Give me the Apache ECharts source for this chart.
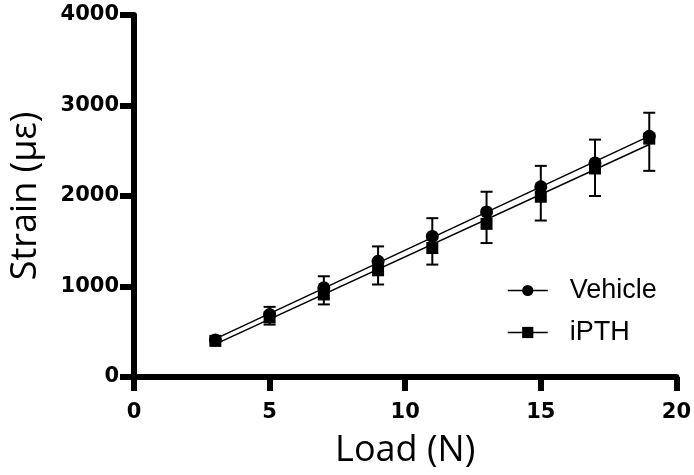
<!DOCTYPE html>
<html><head><meta charset="utf-8">
<script src="https://cdn.jsdelivr.net/npm/echarts@6/dist/echarts.min.js"></script>
<style>html,body{margin:0;padding:0;background:#fff}#c{width:694px;height:475px}</style>
</head><body><div id="c"></div>
<script>
const loads = [3, 5, 7, 9, 11, 13, 15, 17, 19];
const vehicleMean = [410, 690, 985, 1278, 1553, 1824, 2102, 2366, 2659];
const vehicleSD   = [0, 85, 128, 165, 202, 223, 231, 257, 261];
const iPTHMean    = [399, 659, 912, 1179, 1425, 1692, 1992, 2304, 2634];
const iPTHSD      = [0, 80, 110, 157, 183, 212, 263, 304, 356];
const xTicks = [0, 5, 10, 15, 20];
const yTicks = [0, 1000, 2000, 3000, 4000];

function fit(xs, ys) {
  const n = xs.length;
  const mx = xs.reduce((a,b)=>a+b,0)/n, my = ys.reduce((a,b)=>a+b,0)/n;
  let sxy=0, sxx=0;
  for (let i=0;i<n;i++){ sxy+=(xs[i]-mx)*(ys[i]-my); sxx+=(xs[i]-mx)**2; }
  const b = sxy/sxx, a = my - b*mx;
  const x0 = xs[0], x1 = xs[n-1];
  return [[x0, a+b*x0], [x1, a+b*x1]];
}

const vehErr = loads.map((x,i)=>[x, vehicleMean[i], vehicleMean[i]+vehicleSD[i]]);
const ipthErr = loads.map((x,i)=>[x, iPTHMean[i]-iPTHSD[i], iPTHMean[i]]);

function errRender(params, api) {
  const x = api.value(0);
  const lo = api.coord([x, api.value(1)]);
  const hi = api.coord([x, api.value(2)]);
  if (Math.abs(hi[1]-lo[1]) < 1) return null;
  const isTopCap = params.seriesName === 'vehErr';
  const capY = isTopCap ? hi[1] : lo[1];
  const w = 6;
  const st = {stroke:'#000', lineWidth:2};
  return {type:'group', children:[
    {type:'line', shape:{x1:lo[0], y1:lo[1], x2:hi[0], y2:hi[1]}, style:st},
    {type:'line', shape:{x1:lo[0]-w, y1:capY, x2:lo[0]+w, y2:capY}, style:st}
  ]};
}

const chart = echarts.init(document.getElementById('c'), null, {renderer:'canvas'});
const axisFont = {fontFamily:'"DejaVu Sans",sans-serif', fontWeight:'bold', fontSize:21, color:'#000'};
const titleFont = {fontFamily:'"Open Sans","Noto Sans",sans-serif', fontSize:36, color:'#000'};
chart.setOption({
  animation:false,
  backgroundColor:'#fff',
  grid:{left:133, right:14, top:15, bottom:98, containLabel:false},
  xAxis:{type:'value', min:0, max:20, interval:5,
    axisLine:{lineStyle:{color:'#000', width:6}},
    axisTick:{length:14, lineStyle:{color:'#000', width:6}},
    splitLine:{show:false},
    axisLabel:Object.assign({margin:25, formatter:v=>xTicks.includes(v)?String(v):''}, axisFont),
    name:'Load (N)', nameLocation:'middle', nameGap:56,
    nameTextStyle:titleFont
  },
  yAxis:{type:'value', min:0, max:4000, interval:1000,
    axisLine:{show:true, lineStyle:{color:'#000', width:6}},
    axisTick:{show:true, length:14, lineStyle:{color:'#000', width:6}},
    splitLine:{show:false},
    axisLabel:Object.assign({margin:15, formatter:v=>yTicks.includes(v)?String(v):''}, axisFont),
    name:'Strain (με)', nameLocation:'middle', nameGap:90,
    nameTextStyle:titleFont
  },
  legend:{orient:'vertical', left:502, top:272, itemWidth:40, itemHeight:14, itemGap:15,
    data:['Vehicle','iPTH'],
    textStyle:{fontFamily:'"Liberation Sans",Arial,sans-serif', fontSize:27, color:'#000', padding:[0,0,0,17]},
    lineStyle:{opacity:1, width:1.5, color:'#000'}
  },
  series:[
    {name:'vehFit', type:'line', data:fit(loads, vehicleMean), symbol:'none', silent:true,
      lineStyle:{color:'#000', width:1.5}, z:2},
    {name:'ipthFit', type:'line', data:fit(loads, iPTHMean), symbol:'none', silent:true,
      lineStyle:{color:'#000', width:1.5}, z:2},
    {name:'vehErr', type:'custom', data:vehErr, renderItem:errRender, z:3},
    {name:'ipthErr', type:'custom', data:ipthErr, renderItem:errRender, z:3},
    {name:'Vehicle', type:'line', data:loads.map((x,i)=>[x, vehicleMean[i]]), symbol:'circle', symbolSize:13,
      itemStyle:{color:'#000'}, lineStyle:{opacity:0, color:'#000'}, z:4},
    {name:'iPTH', type:'line', data:loads.map((x,i)=>[x, iPTHMean[i]]), symbol:'rect', symbolSize:12,
      itemStyle:{color:'#000'}, lineStyle:{opacity:0, color:'#000'}, z:5}
  ]
});
</script></body></html>
